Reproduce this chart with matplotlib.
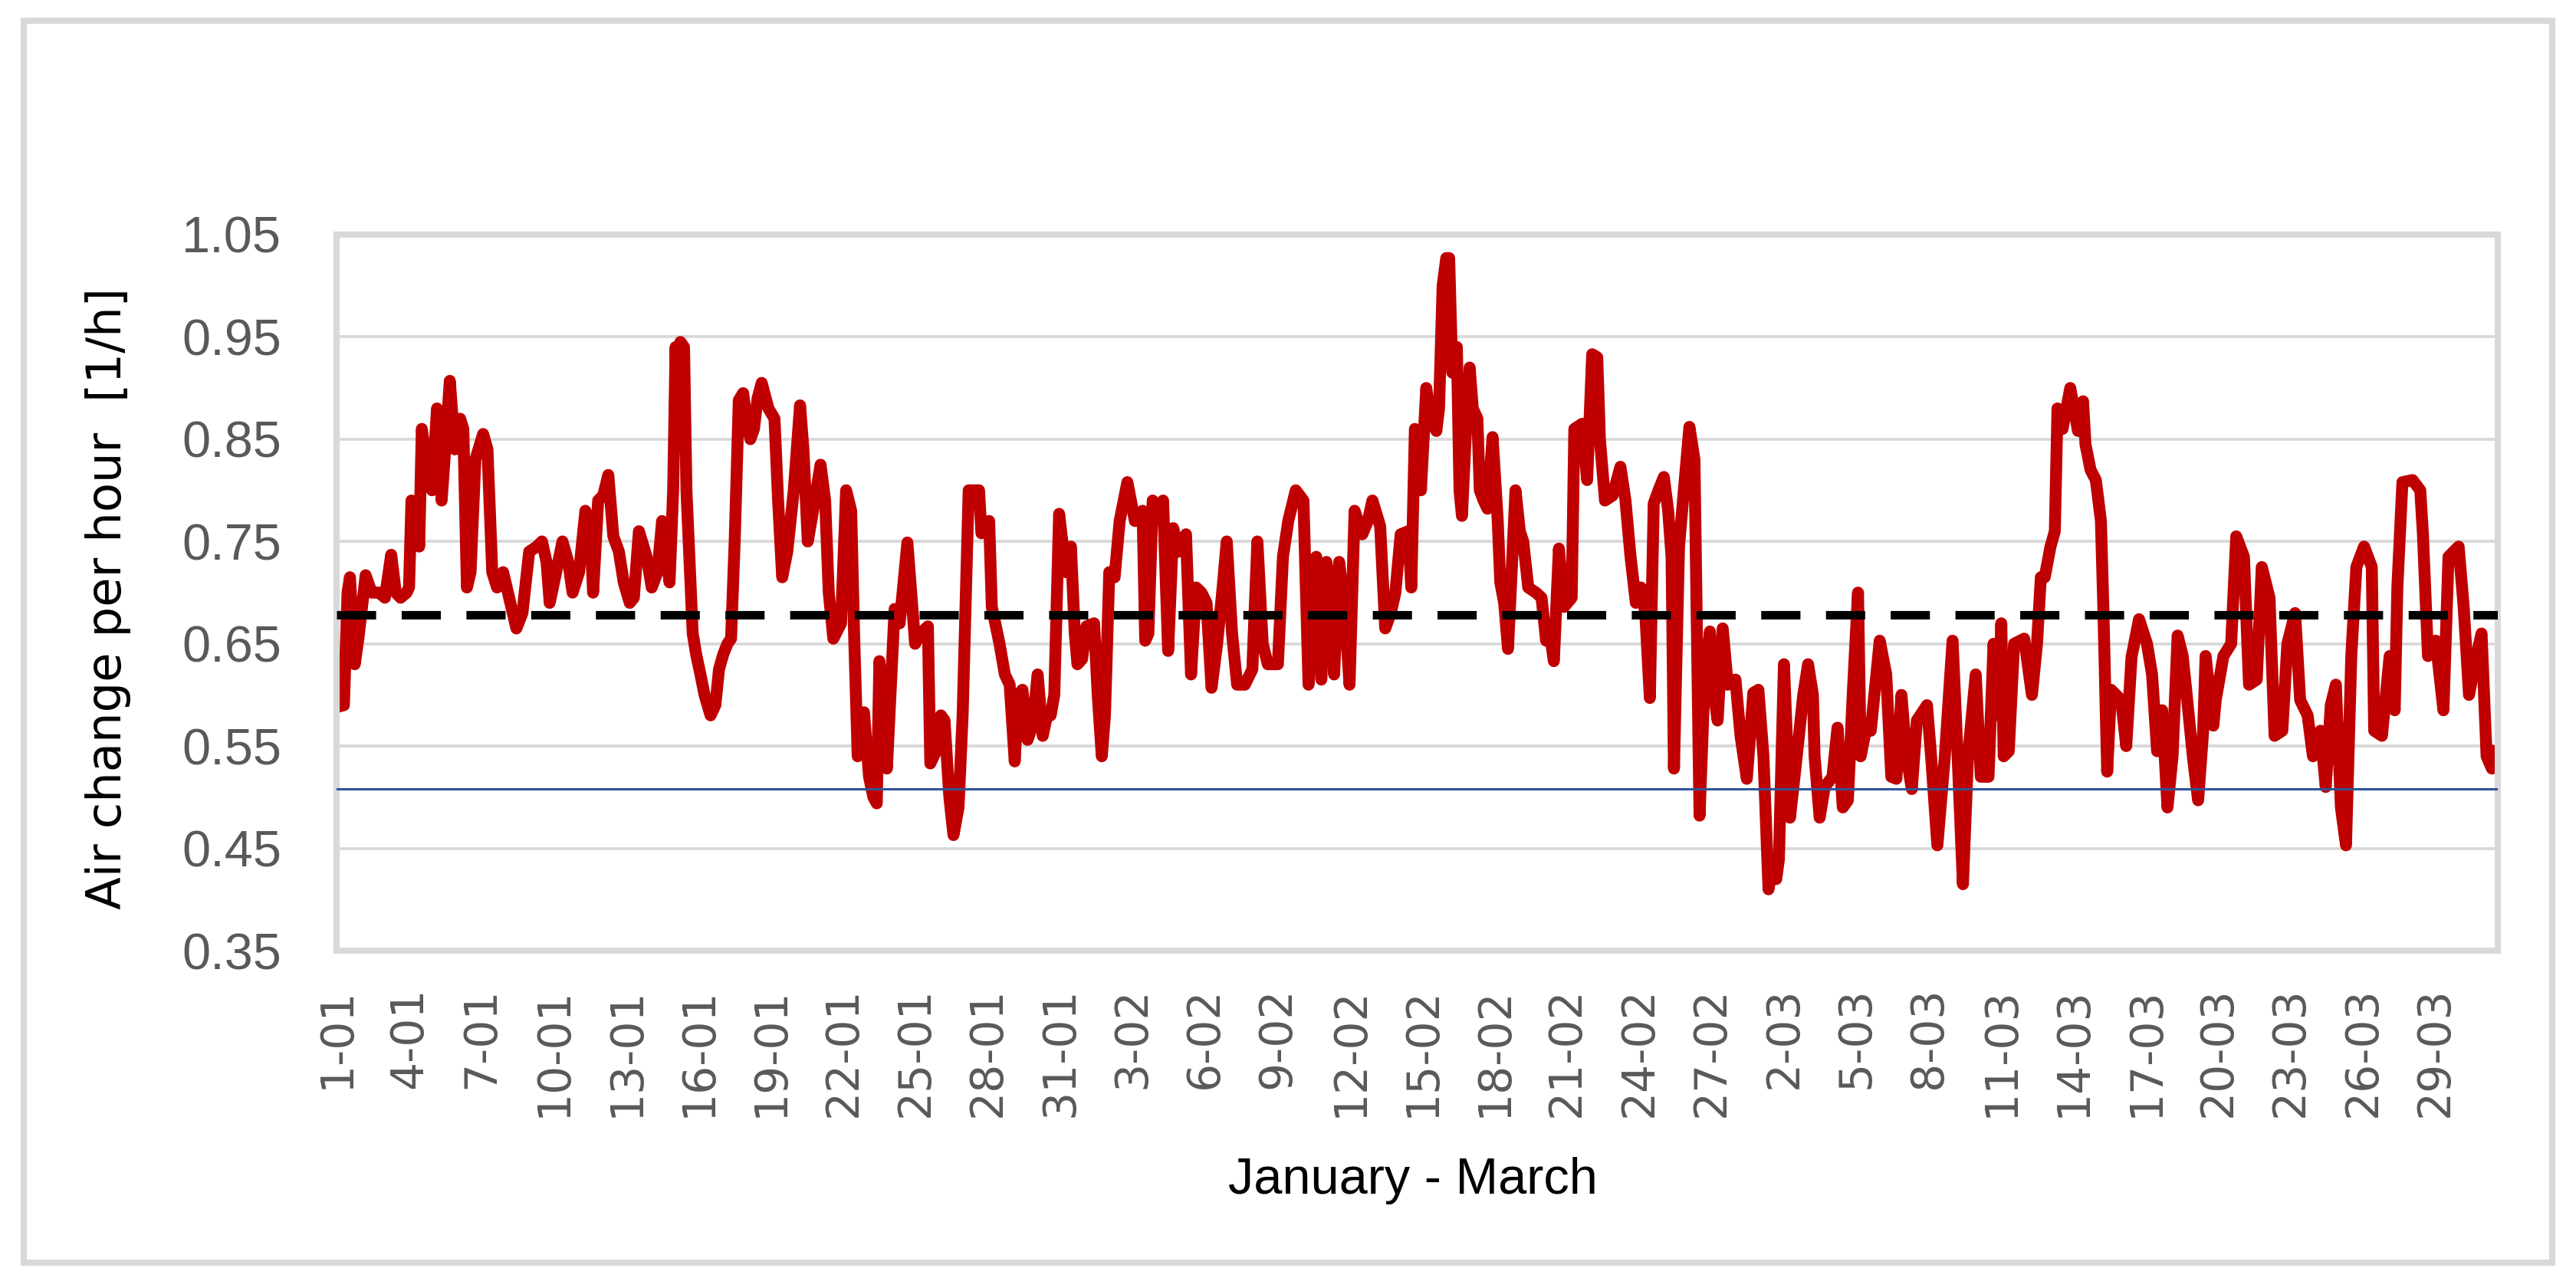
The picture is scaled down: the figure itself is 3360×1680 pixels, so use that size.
import numpy as np
import matplotlib
matplotlib.use('Agg')
import matplotlib.pyplot as plt
import matplotlib.patches as mpatches

# time in days since 1 January, air change rate in 1/h
day = [
    0.00, 0.30, 0.45, 0.55, 0.75, 0.90, 1.20, 1.45, 1.75, 2.00, 2.26, 2.45,
    2.65, 2.90, 3.00, 3.10, 3.30, 3.42, 3.53, 3.75, 3.95, 4.16, 4.35, 4.50,
    4.69, 4.90, 5.12, 5.25, 5.40, 5.55, 5.75, 6.07, 6.25, 6.45, 6.65, 6.90,
    7.20, 7.45, 7.70, 7.98, 8.30, 8.51, 8.70, 8.83, 9.10, 9.36, 9.60, 9.78,
    10.05, 10.31, 10.50, 10.63, 10.84, 11.05, 11.26, 11.47, 11.70, 11.90,
    12.15, 12.32, 12.53, 12.85, 13.06, 13.30, 13.49, 13.65, 13.80, 13.95,
    14.05, 14.15, 14.25, 14.40, 14.50, 14.65, 14.76, 14.90, 15.08, 15.25,
    15.50, 15.70, 15.85, 16.03, 16.20, 16.35, 16.50, 16.67, 16.85, 16.99,
    17.15, 17.30, 17.45, 17.62, 17.90, 18.15, 18.30, 18.47, 18.68, 18.95,
    19.21, 19.35, 19.53, 19.75, 20.06, 20.25, 20.40, 20.59, 20.91, 21.12,
    21.33, 21.45, 21.60, 21.86, 22.07, 22.25, 22.39, 22.50, 22.65, 22.81,
    23.13, 23.34, 23.66, 23.98, 24.20, 24.51, 24.61, 24.85, 25.05, 25.20,
    25.40, 25.57, 25.78, 25.95, 26.20, 26.40, 26.63, 26.73, 27.05, 27.16,
    27.48, 27.70, 27.90, 28.11, 28.25, 28.43, 28.64, 28.85, 29.06, 29.27,
    29.45, 29.60, 29.75, 29.95, 30.23, 30.44, 30.60, 30.71, 30.90, 31.08,
    31.40, 31.55, 31.72, 31.85, 32.03, 32.25, 32.46, 32.78, 33.09, 33.41,
    33.52, 33.65, 33.83, 34.05, 34.26, 34.47, 34.68, 34.90, 35.21, 35.42,
    35.63, 35.85, 36.06, 36.27, 36.50, 36.69, 36.90, 37.12, 37.33, 37.65,
    37.96, 38.17, 38.39, 38.60, 39.02, 39.23, 39.45, 39.76, 40.08, 40.29,
    40.45, 40.61, 40.82, 41.03, 41.20, 41.35, 41.56, 41.80, 41.99, 42.20,
    42.52, 42.75, 42.94, 43.26, 43.47, 43.70, 43.89, 44.11, 44.43, 44.55,
    44.70, 44.85, 44.95, 45.05, 45.17, 45.35, 45.59, 45.70, 45.85, 46.00,
    46.12, 46.25, 46.44, 46.55, 46.65, 46.80, 46.97, 47.10, 47.29, 47.39,
    47.55, 47.71, 47.92, 48.13, 48.24, 48.40, 48.56, 48.87, 49.05, 49.19,
    49.40, 49.72, 49.95, 50.14, 50.30, 50.46, 50.67, 50.88, 51.20, 51.31,
    51.63, 51.84, 52.05, 52.26, 52.37, 52.58, 52.90, 53.22, 53.43, 53.64,
    53.86, 54.07, 54.25, 54.44, 54.60, 54.80, 55.02, 55.20, 55.34, 55.44,
    55.65, 55.85, 56.08, 56.29, 56.50, 56.71, 56.93, 57.10, 57.25, 57.46,
    57.67, 57.99, 58.20, 58.46, 58.73, 58.94, 59.15, 59.36, 59.50, 59.68,
    59.79, 60.00, 60.25, 60.53, 60.80, 61.00, 61.20, 61.27, 61.48, 61.69,
    62.01, 62.22, 62.44, 62.65, 62.85, 63.07, 63.18, 63.39, 63.60, 63.97,
    64.24, 64.45, 64.66, 64.87, 65.08, 65.30, 65.51, 65.93, 66.10, 66.36,
    66.67, 66.99, 67.20, 67.42, 67.63, 67.95, 68.16, 68.48, 68.69, 68.90,
    69.01, 69.11, 69.32, 69.54, 69.96, 70.28, 70.49, 70.65, 70.81, 71.05,
    71.23, 71.34, 71.55, 71.87, 72.19, 72.40, 72.50, 72.71, 72.93, 73.14,
    73.24, 73.40, 73.56, 73.98, 74.19, 74.41, 74.72, 75.05, 75.26, 75.47,
    75.68, 75.90, 76.11, 76.32, 76.53, 76.74, 76.95, 77.17, 77.38, 77.48,
    77.80, 77.90, 78.22, 78.54, 78.75, 79.07, 79.28, 79.60, 79.81, 80.13,
    80.34, 80.66, 80.87, 81.19, 81.40, 81.71, 81.93, 82.24, 82.46, 82.67,
    82.88, 83.09, 83.30, 83.52, 83.73, 84.05, 84.37, 84.47, 84.79, 85.11,
    85.32, 85.43, 85.64, 86.06, 86.38, 86.49, 86.70, 87.02, 87.34, 87.55,
    87.97, 88.18, 88.40, 88.71, 88.92, 89.13, 89.35, 89.60,
]
ach = [
    0.588, 0.590, 0.700, 0.715, 0.630, 0.655, 0.717, 0.700, 0.700, 0.695, 0.737, 0.700,
    0.695, 0.700, 0.705, 0.790, 0.780, 0.745, 0.860, 0.820, 0.800, 0.880, 0.790, 0.840,
    0.907, 0.840, 0.870, 0.860, 0.705, 0.720, 0.830, 0.855, 0.840, 0.720, 0.705, 0.720,
    0.690, 0.665, 0.680, 0.740, 0.745, 0.750, 0.730, 0.690, 0.720, 0.750, 0.730, 0.700,
    0.720, 0.780, 0.770, 0.700, 0.790, 0.795, 0.815, 0.755, 0.740, 0.710,
    0.690, 0.695, 0.760, 0.735, 0.705, 0.720, 0.770, 0.740, 0.710, 0.800,
    0.940, 0.860, 0.945, 0.940, 0.800, 0.720, 0.660, 0.640, 0.620, 0.600,
    0.580, 0.590, 0.625, 0.640, 0.650, 0.655, 0.750, 0.888, 0.895, 0.870,
    0.850, 0.860, 0.890, 0.905, 0.880, 0.870, 0.790, 0.715, 0.740, 0.800,
    0.883, 0.840, 0.750, 0.780, 0.825, 0.790, 0.700, 0.655, 0.670, 0.800,
    0.780, 0.660, 0.540, 0.583, 0.520, 0.500, 0.494, 0.633, 0.600, 0.528,
    0.684, 0.670, 0.749, 0.650, 0.660, 0.667, 0.533, 0.545, 0.580, 0.575,
    0.500, 0.463, 0.490, 0.580, 0.800, 0.800, 0.800, 0.758, 0.770, 0.686,
    0.650, 0.620, 0.610, 0.535, 0.600, 0.605, 0.556, 0.570, 0.620, 0.560,
    0.580, 0.580, 0.600, 0.777, 0.720, 0.745, 0.660, 0.630, 0.635, 0.667,
    0.670, 0.600, 0.540, 0.580, 0.720, 0.715, 0.770, 0.808, 0.770, 0.780,
    0.653, 0.660, 0.790, 0.780, 0.790, 0.643, 0.763, 0.740, 0.757, 0.620,
    0.705, 0.700, 0.690, 0.607, 0.650, 0.695, 0.750, 0.660, 0.610, 0.610,
    0.625, 0.750, 0.650, 0.630, 0.630, 0.735, 0.770, 0.800, 0.790, 0.610,
    0.690, 0.735, 0.615, 0.730, 0.700, 0.620, 0.730, 0.680, 0.610, 0.780,
    0.757, 0.770, 0.790, 0.765, 0.665, 0.680, 0.700, 0.757, 0.760, 0.705,
    0.860, 0.850, 0.800, 0.845, 0.900, 0.870, 0.858, 0.880, 1.000, 1.027,
    1.027, 0.915, 0.940, 0.800, 0.775, 0.850, 0.920, 0.880, 0.870, 0.800,
    0.790, 0.782, 0.852, 0.772, 0.710, 0.690, 0.645, 0.800, 0.760, 0.750,
    0.705, 0.700, 0.695, 0.653, 0.660, 0.633, 0.743, 0.686, 0.695, 0.860,
    0.865, 0.810, 0.933, 0.930, 0.850, 0.790, 0.795, 0.823, 0.790, 0.735,
    0.690, 0.705, 0.680, 0.597, 0.787, 0.800, 0.813, 0.780, 0.735, 0.528,
    0.745, 0.800, 0.862, 0.830, 0.482, 0.614, 0.662, 0.600, 0.575, 0.665,
    0.610, 0.615, 0.560, 0.518, 0.602, 0.605, 0.540, 0.410, 0.430, 0.420,
    0.439, 0.630, 0.480, 0.540, 0.600, 0.630, 0.600, 0.540, 0.480, 0.510,
    0.520, 0.568, 0.490, 0.497, 0.600, 0.700, 0.540, 0.565, 0.565, 0.653,
    0.620, 0.520, 0.518, 0.600, 0.540, 0.508, 0.575, 0.590, 0.540, 0.453,
    0.540, 0.653, 0.540, 0.415, 0.540, 0.620, 0.520, 0.520, 0.650, 0.580,
    0.670, 0.540, 0.545, 0.650, 0.655, 0.600, 0.650, 0.715, 0.715, 0.745,
    0.760, 0.880, 0.860, 0.900, 0.858, 0.887, 0.845, 0.820, 0.810, 0.770,
    0.686, 0.525, 0.605, 0.595, 0.550, 0.637, 0.674, 0.650, 0.620, 0.545,
    0.585, 0.490, 0.540, 0.658, 0.638, 0.590, 0.540, 0.497, 0.565, 0.638,
    0.570, 0.595, 0.638, 0.650, 0.755, 0.735, 0.610, 0.615, 0.725, 0.695,
    0.560, 0.565, 0.650, 0.680, 0.595, 0.580, 0.540, 0.565, 0.510, 0.590,
    0.610, 0.490, 0.453, 0.638, 0.725, 0.745, 0.725, 0.565, 0.560, 0.638,
    0.585, 0.705, 0.808, 0.810, 0.800, 0.757, 0.638, 0.653, 0.585, 0.735,
    0.745, 0.686, 0.600, 0.638, 0.660, 0.540, 0.528, 0.550,
]
mean_ach = 0.678
min_ach = 0.508

tick_days = np.arange(0, 88, 3)
tick_labels = ['1-01', '4-01', '7-01', '10-01', '13-01', '16-01', '19-01',
               '22-01', '25-01', '28-01', '31-01', '3-02', '6-02', '9-02',
               '12-02', '15-02', '18-02', '21-02', '24-02', '27-02', '2-03',
               '5-03', '8-03', '11-03', '14-03', '17-03', '20-03', '23-03',
               '26-03', '29-03']
y_ticks = [0.35, 0.45, 0.55, 0.65, 0.75, 0.85, 0.95, 1.05]

fig = plt.figure(figsize=(16.8, 8.4), dpi=200)
ax = fig.add_axes([0.1307, 0.2619, 0.8390, 0.5560])

ax.plot(day, ach, color='#c00000', lw=5.6, solid_joinstyle='round',
        solid_capstyle='butt', zorder=2)
ax.axhline(min_ach, color='#2f5597', lw=1.1, zorder=3)
ax.axhline(mean_ach, color='black', lw=4.0, linestyle=(0, (4.6, 3.0)),
           dash_capstyle='butt', zorder=4)

ax.set_xlim(0, 89.6)
ax.set_ylim(0.35, 1.05)
ax.set_yticks(y_ticks)
ax.set_yticklabels(['%.2f' % v for v in y_ticks], family=['Liberation Sans', 'DejaVu Sans'],
                   fontsize=24, color='#595959')
ax.set_xticks(tick_days)
ax.set_xticklabels(tick_labels, rotation=90, fontsize=21, color='#595959')
ax.tick_params(axis='y', length=0, pad=26)
ax.tick_params(axis='x', length=0, pad=17)

ax.yaxis.grid(True, color='#d9d9d9', lw=1.4)
ax.set_axisbelow(True)
for sp in ax.spines.values():
    sp.set_color('#d9d9d9')
    sp.set_linewidth(2.9)

fig.text(0.0421, 0.5357, 'Air change per hour  [1/h]', rotation=90,
         ha='center', va='center', fontsize=22.5, color='black')
fig.text(0.5485, 0.0735, 'January - March', ha='center', va='baseline',
         family=['Liberation Sans', 'DejaVu Sans'], fontsize=24, color='black')

# light grey frame round the whole picture
frame = mpatches.Rectangle((31 / 3360, 1 - 1647 / 1680), 3298 / 3360, 1620 / 1680,
                           transform=fig.transFigure, fill=False,
                           edgecolor='#d9d9d9', lw=2.9)
fig.add_artist(frame)

fig.savefig('out.png', dpi=200, facecolor='white')
